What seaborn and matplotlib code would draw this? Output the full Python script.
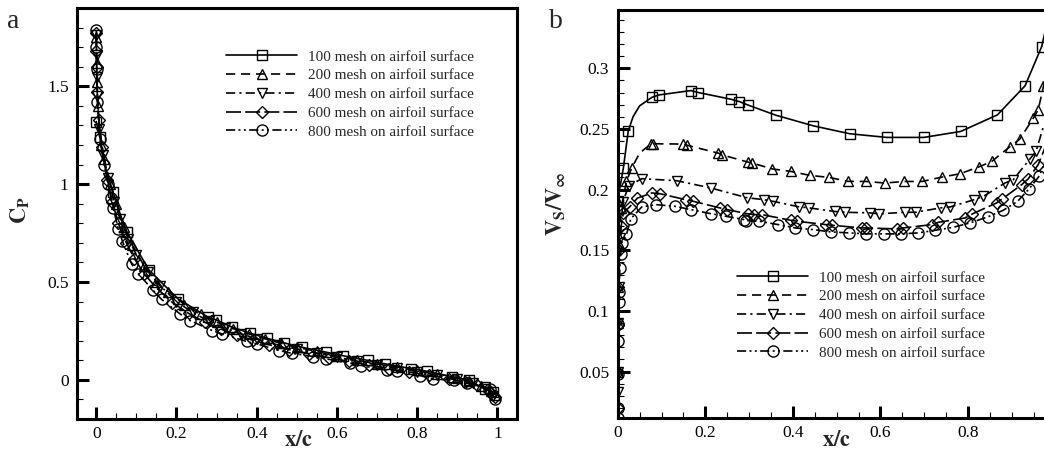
import matplotlib
matplotlib.use("Agg")
import numpy as np
import pandas as pd
import matplotlib.pyplot as plt
import seaborn as sns
from matplotlib.ticker import MultipleLocator, FuncFormatter

sns.set_theme(style="white")
plt.rcParams["font.family"] = ["Liberation Serif", "DejaVu Serif"]
plt.rcParams["mathtext.fontset"] = "stix"

# ---------------- data ----------------
series_labels = ["100 mesh on airfoil surface", "200 mesh on airfoil surface",
                 "400 mesh on airfoil surface", "600 mesh on airfoil surface",
                 "800 mesh on airfoil surface"]

# Panel a: pressure coefficient Cp vs x/c
a_x100 = [0.0, 0.009, 0.02, 0.042, 0.06, 0.076, 0.131, 0.204, 0.279, 0.298, 0.339, 0.383, 0.425,
          0.468, 0.512, 0.574, 0.616, 0.678, 0.72, 0.784, 0.824, 0.886, 0.929, 0.969, 0.99]
a_cp100 = [1.32, 1.24, 1.10, 0.96, 0.845, 0.758, 0.562, 0.414, 0.32, 0.307, 0.269, 0.239, 0.213,
           0.189, 0.167, 0.141, 0.123, 0.099, 0.082, 0.058, 0.044, 0.017, -0.003, -0.046, -0.063]

a_x200 = [0.0, 0.001, 0.002, 0.004, 0.012, 0.02, 0.035, 0.05, 0.07, 0.09, 0.12, 0.15, 0.18, 0.22,
          0.26, 0.30, 0.34, 0.38, 0.42, 0.46, 0.50, 0.55, 0.60, 0.65, 0.70, 0.75, 0.80, 0.85, 0.90,
          0.93, 0.96, 0.985, 0.993]
a_cp200 = [1.75, 1.62, 1.52, 1.40, 1.20, 1.13, 1.0, 0.90, 0.78, 0.69, 0.58, 0.50, 0.45, 0.385,
           0.335, 0.295, 0.262, 0.235, 0.21, 0.187, 0.167, 0.145, 0.122, 0.10, 0.082, 0.065, 0.048,
           0.03, 0.008, -0.008, -0.03, -0.055, -0.075]

a_x400 = [0.0, 0.0008, 0.0015, 0.003, 0.008, 0.018, 0.03, 0.045, 0.06, 0.08, 0.10, 0.13, 0.16,
          0.20, 0.24, 0.28, 0.32, 0.36, 0.40, 0.45, 0.50, 0.55, 0.60, 0.65, 0.70, 0.75, 0.80, 0.85,
          0.90, 0.94, 0.97, 0.99]
a_cp400 = [1.76, 1.66, 1.55, 1.45, 1.28, 1.15, 1.03, 0.91, 0.82, 0.72, 0.64, 0.55, 0.48, 0.40,
           0.345, 0.30, 0.265, 0.235, 0.208, 0.18, 0.158, 0.137, 0.116, 0.096, 0.077, 0.06, 0.042,
           0.025, 0.003, -0.015, -0.038, -0.08]

a_x600 = [0.0, 0.0005, 0.0012, 0.0025, 0.006, 0.015, 0.028, 0.04, 0.055, 0.075, 0.095, 0.12, 0.15,
          0.19, 0.23, 0.27, 0.31, 0.35, 0.39, 0.43, 0.48, 0.53, 0.58, 0.63, 0.68, 0.73, 0.78, 0.83,
          0.88, 0.92, 0.95, 0.98, 0.993]
a_cp600 = [1.77, 1.68, 1.60, 1.47, 1.33, 1.19, 1.02, 0.91, 0.80, 0.70, 0.62, 0.54, 0.47, 0.395,
           0.34, 0.295, 0.26, 0.23, 0.203, 0.18, 0.155, 0.133, 0.113, 0.094, 0.075, 0.057, 0.04,
           0.023, 0.006, -0.01, -0.028, -0.055, -0.09]

a_x800 = [0.0, 0.0005, 0.001, 0.003, 0.009, 0.02, 0.03, 0.037, 0.042, 0.055, 0.065, 0.088, 0.105,
          0.142, 0.163, 0.209, 0.234, 0.289, 0.313, 0.375, 0.40, 0.456, 0.487, 0.541, 0.574, 0.633,
          0.659, 0.724, 0.749, 0.807, 0.84, 0.892, 0.924, 0.982, 0.994]
a_cp800 = [1.786, 1.70, 1.59, 1.42, 1.23, 1.10, 1.0, 0.93, 0.88, 0.77, 0.71, 0.593, 0.542, 0.457,
           0.411, 0.337, 0.303, 0.252, 0.235, 0.196, 0.184, 0.15, 0.136, 0.119, 0.107, 0.085,
           0.073, 0.051, 0.044, 0.022, 0.005, -0.003, -0.017, -0.046, -0.097]

# Panel b: surface velocity ratio Vs/Vinf vs x/c
b_x100 = [0.0, 0.013, 0.024, 0.035, 0.05, 0.078, 0.094, 0.167, 0.184, 0.258, 0.278, 0.298, 0.361,
          0.447, 0.530, 0.614, 0.699, 0.783, 0.867, 0.930, 0.968, 0.985]
b_v100 = [0.191, 0.218, 0.248, 0.260, 0.269, 0.276, 0.278, 0.2816, 0.280, 0.2745, 0.2725, 0.2696,
          0.2613, 0.2525, 0.246, 0.243, 0.243, 0.2479, 0.2616, 0.2855, 0.3178, 0.345]

b_x200 = [0.0, 0.0005, 0.001, 0.003, 0.008, 0.02, 0.032, 0.05, 0.075, 0.081, 0.150, 0.158, 0.230,
          0.237, 0.297, 0.307, 0.353, 0.395, 0.439, 0.483, 0.525, 0.568, 0.610, 0.654, 0.695,
          0.740, 0.781, 0.824, 0.854, 0.896, 0.918, 0.949, 0.960, 0.972, 0.985]
b_v200 = [0.05, 0.09, 0.12, 0.155, 0.185, 0.2067, 0.2178, 0.230, 0.2375, 0.2378, 0.2375, 0.2366,
          0.230, 0.2287, 0.2227, 0.2219, 0.217, 0.215, 0.2117, 0.210, 0.2068, 0.2067, 0.2054,
          0.2067, 0.2067, 0.2103, 0.213, 0.2186, 0.2232, 0.2355, 0.2416, 0.2589, 0.2657, 0.285, 0.31]

b_x400 = [0.0, 0.0003, 0.001, 0.002, 0.005, 0.012, 0.025, 0.055, 0.135, 0.213, 0.295, 0.333, 0.355,
          0.415, 0.437, 0.495, 0.519, 0.576, 0.597, 0.656, 0.680, 0.737, 0.759, 0.814, 0.835,
          0.884, 0.903, 0.941, 0.955, 0.972]
b_v400 = [0.033, 0.05, 0.09, 0.12, 0.16, 0.19, 0.203, 0.209, 0.2073, 0.2013, 0.1933, 0.1917,
          0.1903, 0.1857, 0.1849, 0.182, 0.1813, 0.1808, 0.180, 0.1813, 0.1813, 0.1849, 0.1857,
          0.1917, 0.1944, 0.2054, 0.2081, 0.2252, 0.2314, 0.252]

b_x600 = [0.0, 0.0003, 0.0006, 0.001, 0.003, 0.008, 0.013, 0.028, 0.045, 0.078, 0.0966, 0.155,
          0.173, 0.233, 0.250, 0.297, 0.312, 0.329, 0.395, 0.409, 0.476, 0.489, 0.557, 0.568,
          0.637, 0.652, 0.717, 0.732, 0.793, 0.810, 0.865, 0.878, 0.922, 0.937, 0.960, 0.975]
b_v600 = [0.02, 0.05, 0.088, 0.12, 0.15, 0.17, 0.181, 0.186, 0.193, 0.1972, 0.1966, 0.1917,
          0.1903, 0.1849, 0.1835, 0.180, 0.1794, 0.1794, 0.1747, 0.1739, 0.1711, 0.1706, 0.1684,
          0.1684, 0.1676, 0.1684, 0.1711, 0.173, 0.1766, 0.180, 0.189, 0.1923, 0.204, 0.2087,
          0.2205, 0.234]

b_x800 = [0.0, 0.0, 0.0, 0.0005, 0.001, 0.002, 0.003, 0.005, 0.007, 0.009, 0.02, 0.03, 0.055,
          0.0875, 0.131, 0.167, 0.212, 0.247, 0.288, 0.294, 0.323, 0.367, 0.405, 0.447, 0.486,
          0.529, 0.567, 0.609, 0.647, 0.686, 0.724, 0.766, 0.804, 0.845, 0.880, 0.913, 0.939,
          0.963, 0.985]
b_v800 = [0.012, 0.02, 0.048, 0.075, 0.089, 0.107, 0.116, 0.1355, 0.1465, 0.156, 0.163, 0.176,
          0.1857, 0.1876, 0.1862, 0.1835, 0.1802, 0.178, 0.1753, 0.1744, 0.1739, 0.1711, 0.1684,
          0.167, 0.1651, 0.1643, 0.1635, 0.1635, 0.1635, 0.1643, 0.1664, 0.1689, 0.1725, 0.1775,
          0.1829, 0.1903, 0.2005, 0.2114, 0.232]

a_xticks = [0, 0.2, 0.4, 0.6, 0.8, 1.0]
b_xticks = [0, 0.2, 0.4, 0.6, 0.8]   # the "1" of panel b lies beyond the cropped edge

# ---------------- styles ----------------
W, H = 1044, 468
lw = 1.2
styles = [
    dict(linestyle="-", marker="s", markersize=6.8),
    dict(linestyle=(0, (5.5, 3.5)), marker="^", markersize=7.5),
    dict(linestyle=(0, (5.5, 2.5, 1.3, 2.5)), marker="v", markersize=7.5),
    dict(linestyle=(0, (9, 2.5)), marker="D", markersize=6.5),
    dict(linestyle=(0, (5.5, 2, 1.2, 2, 1.2, 2)), marker="o", markersize=8),
]

fig = plt.figure(figsize=(W / 100, H / 100), dpi=100)
axL = fig.add_axes([77 / W, 1 - 419 / H, 440 / W, 411 / H])
axR = fig.add_axes([617.7 / W, 1 - 417.7 / H, 438 / W, 407.7 / H])

a_data = [(a_x100, a_cp100), (a_x200, a_cp200), (a_x400, a_cp400), (a_x600, a_cp600), (a_x800, a_cp800)]
b_data = [(b_x100, b_v100), (b_x200, b_v200), (b_x400, b_v400), (b_x600, b_v600), (b_x800, b_v800)]

a_skip = {0: [2, 4]}
b_skip = {0: [3, 4, 21], 1: [7, 34], 2: [29], 3: [35], 4: [38]}


def draw(ax, data, skip):
    for i, ((xs, ys), lab, st) in enumerate(zip(data, series_labels, styles)):
        idx = [k for k in range(len(xs)) if k not in skip.get(i, [])]
        sns.lineplot(x=xs, y=ys, ax=ax, estimator=None, sort=False, legend=False,
                     color="black", linewidth=lw, linestyle=st["linestyle"],
                     marker=st["marker"], markersize=st["markersize"],
                     markerfacecolor="none", markeredgecolor="black",
                     markeredgewidth=1.0, markevery=idx, label=lab)


draw(axL, a_data, a_skip)
draw(axR, b_data, b_skip)

fmt = FuncFormatter(lambda v, p: "%g" % round(v, 4))
for ax, xt in ((axL, a_xticks), (axR, b_xticks)):
    for s in ax.spines.values():
        s.set_linewidth(2.2)
        s.set_color("black")
        s.set_visible(True)
    ax.set_xticks(xt)
    ax.xaxis.set_minor_locator(MultipleLocator(0.05))
    ax.xaxis.set_major_formatter(fmt)
    ax.yaxis.set_major_formatter(fmt)
    ax.tick_params(which="major", direction="in", length=8.5, width=2.2, colors="black",
                   labelsize=12.5, top=False, right=False, left=True, bottom=True)
    ax.tick_params(which="minor", direction="in", length=4.5, width=0.8, colors="black",
                   top=False, right=False, left=True, bottom=True)
    ax.tick_params(axis="x", which="major", pad=5)
    ax.tick_params(axis="y", which="major", pad=6)
    ax.set_xlabel("")
    ax.set_ylabel("")
    ax.grid(False)
    ax.set_facecolor("white")

axL.set_xlim(-0.048, 1.049)
axL.set_ylim(-0.2, 1.9)
axL.yaxis.set_major_locator(MultipleLocator(0.5))
axL.yaxis.set_minor_locator(MultipleLocator(0.1))

axR.set_xlim(0, 1)
axR.set_ylim(0.012, 0.348)
axR.yaxis.set_major_locator(MultipleLocator(0.05))
axR.yaxis.set_minor_locator(MultipleLocator(0.01))

leg_kw = dict(frameon=False, fontsize=10.9, handlelength=4.7, handletextpad=0.72,
              labelspacing=0.34, borderpad=0, borderaxespad=0, numpoints=1,
              loc="upper left", bbox_transform=fig.transFigure)
axL.legend(bbox_to_anchor=(226 / W, 1 - 50 / H), **leg_kw)
axR.legend(bbox_to_anchor=(737 / W, 1 - 271 / H), **leg_kw)

# axis titles and panel letters
fig.text(298 / W, 1 - 441 / H, r"$\mathbf{x/c}$", ha="center", va="center", fontsize=16)
fig.text(836 / W, 1 - 441 / H, r"$\mathbf{x/c}$", ha="center", va="center", fontsize=16)
fig.text(20 / W, 1 - 210 / H, r"$\mathbf{C_P}$", ha="center", va="center", rotation=90, fontsize=16)
fig.text(556 / W, 1 - 204 / H, r"$\mathbf{V_S/V_\infty}$", ha="center", va="center",
         rotation=90, fontsize=16)
fig.text(7 / W, 1 - 28 / H, "a", ha="left", va="baseline", fontsize=20)
fig.text(549 / W, 1 - 28 / H, "b", ha="left", va="baseline", fontsize=20)

fig.savefig("out.png", dpi=100, facecolor="white")
